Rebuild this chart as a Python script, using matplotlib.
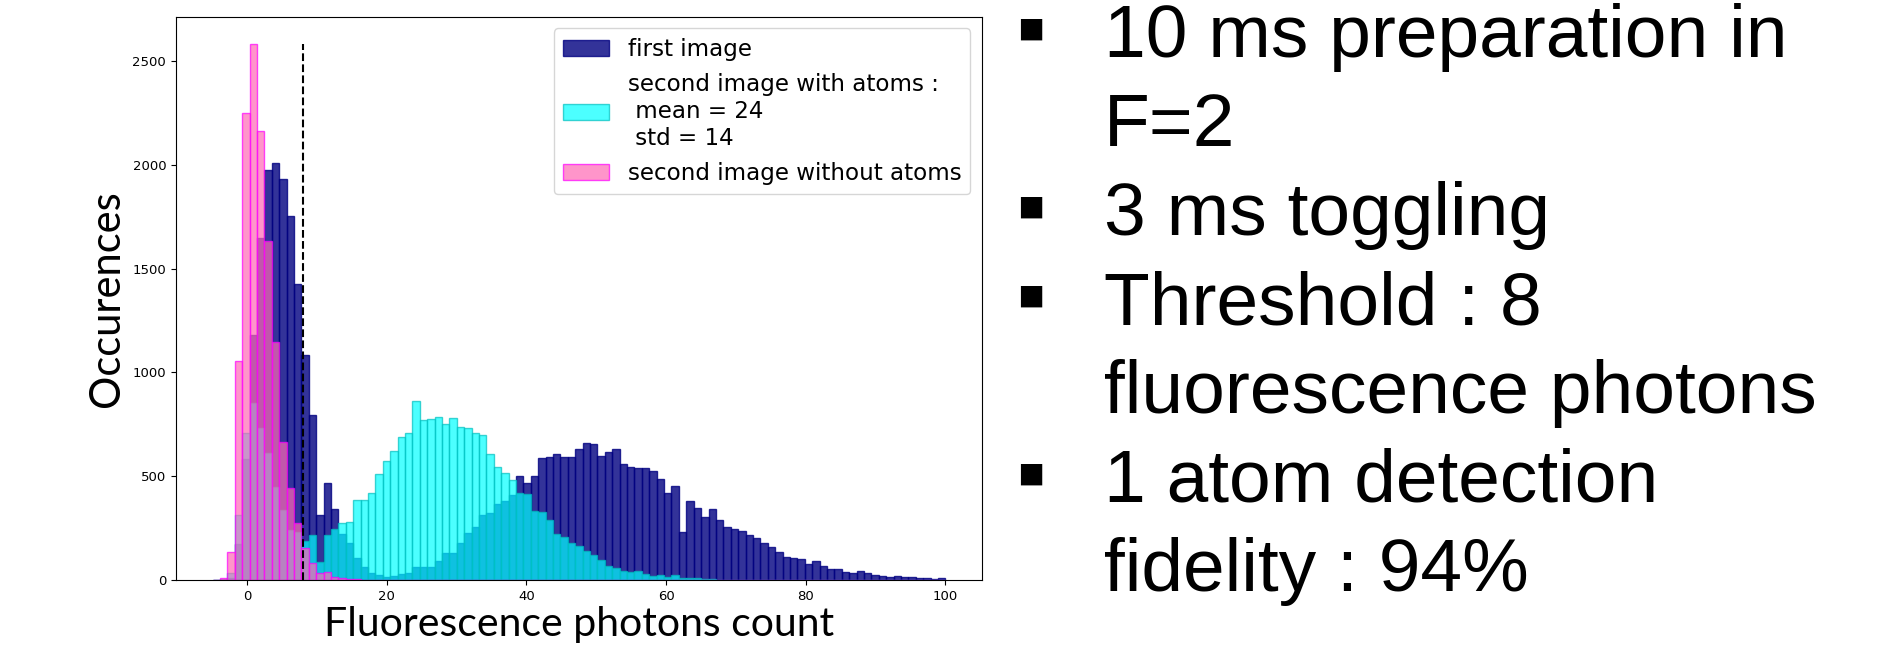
import numpy as np
import matplotlib
matplotlib.use("Agg")
import matplotlib.pyplot as plt

# bin edges of the histograms (width ~1.06 photon)
bin_lo = -4.94
bin_hi = 100.0
n_bins = 99

# counts per bin
first_image = [
    0, 0, 10, 172, 581, 1180, 1646, 1975, 2010, 1930,
    1753, 1426, 1084, 795, 313, 469, 342, 222, 177, 104,
    61, 35, 24, 16, 21, 29, 35, 61, 61, 61,
    93, 128, 128, 180, 228, 257, 313, 321, 366, 382,
    409, 502, 469, 502, 586, 591, 605, 594, 594, 629,
    658, 654, 599, 615, 629, 559, 544, 539, 538, 527,
    488, 417, 453, 231, 382, 348, 302, 342, 287, 254,
    247, 236, 217, 202, 180, 161, 135, 112, 104, 100,
    77, 90, 67, 55, 55, 40, 35, 45, 32, 26,
    19, 14, 21, 14, 13, 11, 8, 5, 10,
]
with_atoms = [
    0, 5, 35, 313, 706, 851, 731, 610, 450, 337,
    241, 230, 189, 217, 88, 217, 244, 273, 281, 385,
    385, 421, 511, 573, 623, 690, 710, 864, 771, 776,
    787, 750, 782, 739, 731, 710, 698, 607, 543, 514,
    482, 421, 414, 334, 328, 289, 222, 209, 180, 165,
    140, 119, 98, 69, 59, 43, 37, 43, 29, 21,
    24, 16, 26, 11, 8, 8, 4, 3, 2, 2,
    1, 1,
]
without_atoms = [
    0, 8, 136, 1055, 2251, 2584, 2163, 1635, 1148, 666,
    442, 273, 152, 80, 35, 40, 16, 8, 5, 3,
    2, 1,
]

threshold = 8
labels = [
    "first image",
    "second image with atoms :\n mean = 24\n std = 14",
    "second image without atoms",
]
bullets = [
    ("10 ms preparation in", True),
    ("F=2", False),
    ("3 ms toggling", True),
    ("Threshold : 8", True),
    ("fluorescence photons", False),
    ("1 atom detection", True),
    ("fidelity : 94%", False),
]

edges = np.linspace(bin_lo, bin_hi, n_bins + 1)
left = edges[:-1]


def pad(v):
    return np.array(v + [0] * (n_bins - len(v)), dtype=float)


fig = plt.figure(figsize=(19.02, 6.64), dpi=100)
ax = fig.add_axes([0.0925, 0.1265, 0.4238, 0.848])

ax.hist(left, bins=edges, weights=pad(first_image), color="navy",
        edgecolor="navy", alpha=0.8, label=labels[0])
ax.hist(left, bins=edges, weights=pad(with_atoms), color="cyan",
        edgecolor="c", alpha=0.7, label=labels[1])
ax.hist(left, bins=edges, weights=pad(without_atoms), facecolor="hotpink",
        edgecolor="magenta", alpha=0.7, label=labels[2])

ax.vlines(threshold, 0, max(without_atoms), colors="black",
          linestyles="dashed", linewidth=1.5)

ax.tick_params(labelsize=9.5)
ax.set_xlabel("Fluorescence photons count", fontsize=29.5, family="Lato",
              labelpad=2)
ax.set_ylabel("Occurences", fontsize=30, family="Lato", labelpad=5)
ax.legend(fontsize=16.6, loc="upper right", labelspacing=0.55)

# bullet list on the right
y = 57
for txt, has_bullet in bullets:
    fy = 1 - y / 664
    if has_bullet:
        fig.text(1031 / 1902, fy + 28 / 664, "\u25aa", fontsize=31,
                 family="DejaVu Sans", va="center", ha="center")
    fig.text(1104 / 1902, fy, txt, fontsize=54, family="Liberation Sans",
             va="baseline", ha="left")
    y += 89

fig.savefig("out.png", dpi=100)
